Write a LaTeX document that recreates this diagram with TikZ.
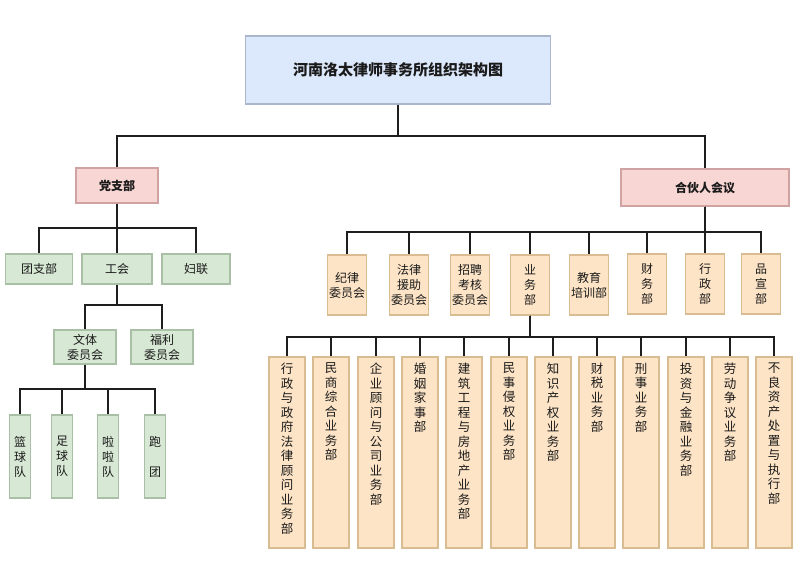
\documentclass[tikz,border=0pt]{standalone}
\usepackage{fontspec}
\setmainfont{Noto Sans CJK SC}
\definecolor{titlefill}{HTML}{DCE8FB}
\definecolor{titledraw}{HTML}{A9B6CC}
\definecolor{pinkfill}{HTML}{F8D6D4}
\definecolor{pinkdraw}{HTML}{CFA3A1}
\definecolor{greenfill}{HTML}{D7E8D4}
\definecolor{greendraw}{HTML}{A9C0A6}
\definecolor{orangefill}{HTML}{FDE4C6}
\definecolor{orangedraw}{HTML}{D9BC92}
\definecolor{linec}{HTML}{1E1E1E}
\definecolor{txt}{HTML}{1A1A1A}
\newcommand{\tallcol}[1]{\parbox[c][179pt][t]{16pt}{\centering\fontsize{12.5}{14.5}\selectfont #1}}
\begin{document}
\begin{tikzpicture}[x=1pt,y=-1pt,
  box/.style={line width=1.1pt, inner sep=0pt, align=center, text=txt,
    font=\fontsize{12}{15}\selectfont},
  titlebox/.style={box, fill=titlefill, draw=titledraw, font=\fontsize{15}{18}\selectfont\bfseries},
  pinkbox/.style={box, fill=pinkfill, draw=pinkdraw, font=\fontsize{12}{15}\selectfont\bfseries},
  greenbox/.style={box, fill=greenfill, draw=greendraw},
  orangebox/.style={box, fill=orangefill, draw=orangedraw},
  rowbox/.style={orangebox, minimum width=39pt, minimum height=60pt},
  teambox/.style={greenbox, minimum width=21pt, minimum height=83pt},
  deptbox/.style={orangebox, minimum width=36pt, minimum height=191pt},
  conn/.style={draw=linec, line width=1.6pt}
]
\fill[white] (0,0) rectangle (800,569);
\useasboundingbox (0,0) rectangle (800,569);

% top
\node[titlebox, minimum width=305pt, minimum height=68pt] (title) at (398,70) {河南洛太律师事务所组织架构图};
\node[pinkbox, minimum width=82pt, minimum height=35pt] (dang) at (117,185.5) {党支部};
\node[pinkbox, minimum width=168pt, minimum height=37pt] (hehuo) at (705,187.5) {合伙人会议};

% left branch
\node[greenbox, minimum width=67pt, minimum height=30pt] (tuan) at (39,269) {团支部};
\node[greenbox, minimum width=70pt, minimum height=30pt] (gonghui) at (117,269) {工会};
\node[greenbox, minimum width=68pt, minimum height=30pt] (fulian) at (196,269) {妇联};
\node[greenbox, minimum width=62pt, minimum height=34pt] (wenti) at (85,347) {文体\\委员会};
\node[greenbox, minimum width=62pt, minimum height=34pt] (fuli) at (162,347) {福利\\委员会};
\node[teambox] (lanqiu) at (20,456.5) {篮\\球\\队};
\node[teambox] (zuqiu) at (62,456.5) {足\\球\\队};
\node[teambox] (lala) at (108,456.5) {啦\\啦\\队};
\node[teambox] (paotuan) at (155,456.5) {跑\\[15pt]团};

% right branch row
\node[rowbox] (jilv) at (347,285) {纪律\\委员会};
\node[rowbox] (yuanzhu) at (409,285) {法律\\援助\\委员会};
\node[rowbox] (zhaopin) at (470,285) {招聘\\考核\\委员会};
\node[rowbox] (yewu) at (530,285) {业\\务\\部};
\node[rowbox] (jiaoyu) at (589,285) {教育\\培训部};
\node[rowbox] (caiwu) at (647,284) {财\\务\\部};
\node[rowbox] (xingzheng) at (705,284) {行\\政\\部};
\node[rowbox] (pinxuan) at (761,284) {品\\宣\\部};

% departments
\node[deptbox] (d1) at (287,452.5) {\tallcol{行\\政\\与\\政\\府\\法\\律\\顾\\问\\业\\务\\部}};
\node[deptbox] (d2) at (331,452.5) {\tallcol{民\\商\\综\\合\\业\\务\\部}};
\node[deptbox] (d3) at (376,452.5) {\tallcol{企\\业\\顾\\问\\与\\公\\司\\业\\务\\部}};
\node[deptbox] (d4) at (420,452.5) {\tallcol{婚\\姻\\家\\事\\部}};
\node[deptbox] (d5) at (464,452.5) {\tallcol{建\\筑\\工\\程\\与\\房\\地\\产\\业\\务\\部}};
\node[deptbox] (d6) at (509,452.5) {\tallcol{民\\事\\侵\\权\\业\\务\\部}};
\node[deptbox] (d7) at (553,452.5) {\tallcol{知\\识\\产\\权\\业\\务\\部}};
\node[deptbox] (d8) at (597,452.5) {\tallcol{财\\税\\业\\务\\部}};
\node[deptbox] (d9) at (641,452.5) {\tallcol{刑\\事\\业\\务\\部}};
\node[deptbox] (d10) at (686,452.5) {\tallcol{投\\资\\与\\金\\融\\业\\务\\部}};
\node[deptbox] (d11) at (730,452.5) {\tallcol{劳\\动\\争\\议\\业\\务\\部}};
\node[deptbox] (d12) at (774,452.5) {\tallcol{不\\良\\资\\产\\处\\置\\与\\执\\行\\部}};

% bus coordinates
\coordinate (bus0) at (0,136);
\coordinate (bus1) at (0,228);
\coordinate (bus2) at (0,305);
\coordinate (bus3) at (0,389);
\coordinate (bus4) at (0,232);
\coordinate (bus5) at (0,337);

% connectors
\foreach \c in {dang,hehuo}
  \draw[conn] (title.south) |- (\c.north |- bus0) -- (\c.north);
\foreach \c in {tuan,gonghui,fulian}
  \draw[conn] (dang.south) |- (\c.north |- bus1) -- (\c.north);
\foreach \c in {wenti,fuli}
  \draw[conn] (gonghui.south) |- (\c.north |- bus2) -- (\c.north);
\foreach \c in {lanqiu,zuqiu,lala,paotuan}
  \draw[conn] (wenti.south) |- (\c.north |- bus3) -- (\c.north);
\foreach \c in {jilv,yuanzhu,zhaopin,yewu,jiaoyu,caiwu,xingzheng,pinxuan}
  \draw[conn] (hehuo.south) |- (\c.north |- bus4) -- (\c.north);
\foreach \c in {d1,d2,d3,d4,d5,d6,d7,d8,d9,d10,d11,d12}
  \draw[conn] (yewu.south) |- (\c.north |- bus5) -- (\c.north);
\end{tikzpicture}
\end{document}
